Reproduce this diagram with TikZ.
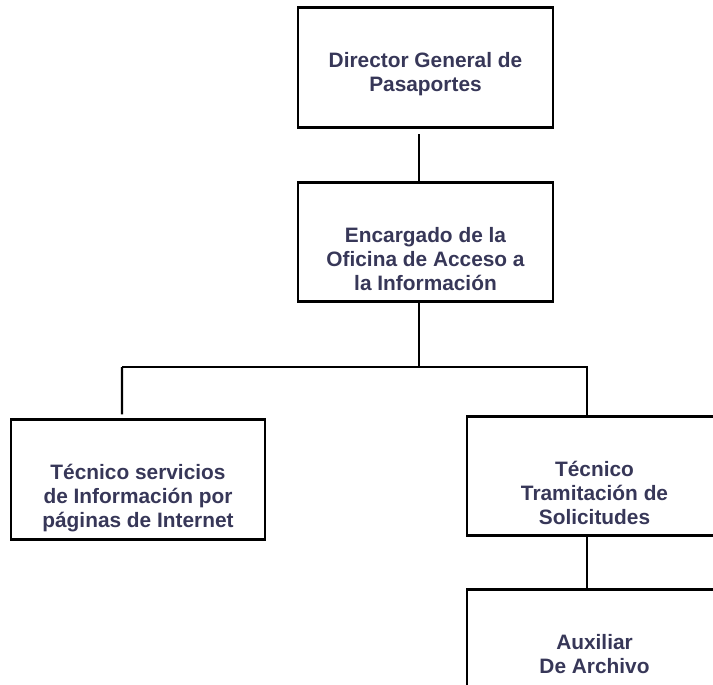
\documentclass[tikz,border=0pt]{standalone}
\usepackage{fontspec}
\setmainfont{Liberation Sans}[BoldFont={Liberation Sans Bold}]
\usepackage{tikz}
\usetikzlibrary{positioning, calc}

\definecolor{boxtext}{RGB}{55,55,88}

\begin{document}
\begin{tikzpicture}[x=0.03cm, y=-0.03cm,
    box/.style={draw, line width=2.3pt, minimum width=7.65cm, minimum height=3.58cm, inner sep=0pt,
        text=boxtext, font=\bfseries\fontsize{17.8}{20.4}\selectfont,
        execute at begin node={\begin{minipage}[c][3.58cm][t]{7.4cm}\centering\vspace*{37pt}\strut},
        execute at end node={\end{minipage}}},
    link/.style={line width=1.8pt}
]
\useasboundingbox (0,0) rectangle (713,685);
\clip (0,0) rectangle (713,685);

% Director
\node[box] (director) at (425.5,67.5) {Director General de\\Pasaportes};

% Encargado OAI
\node[box] (encargado) at (425.5,242) {Encargado de la\\Oficina de Acceso a\\la Informaci\'on};

% Tecnicos
\node[box, minimum width=7.62cm] (internet) at (138,479.5) {T\'ecnico servicios\\de Informaci\'on por\\p\'aginas de Internet};
\node[box] (tramite) at (594.5,476) {T\'ecnico\\Tramitaci\'on de\\Solicitudes};

% Auxiliar
\node[box] (archivo) at (594.5,649) {Auxiliar\\De Archivo};

% Connections
\draw[link] ([xshift=-0.19cm, yshift=-0.17cm]director.south) -- ([xshift=-0.19cm]encargado.north);
\draw[link] ([xshift=-0.19cm]encargado.south) |- (122,367) coordinate (branch);
\draw[link] (branch) -- ([xshift=-0.48cm, yshift=0.12cm]internet.north);
\draw[link] (branch) -| ([xshift=-0.23cm]tramite.north);
\draw[link] ([xshift=-0.23cm]tramite.south) -- ([xshift=-0.23cm]archivo.north);

\end{tikzpicture}
\end{document}
